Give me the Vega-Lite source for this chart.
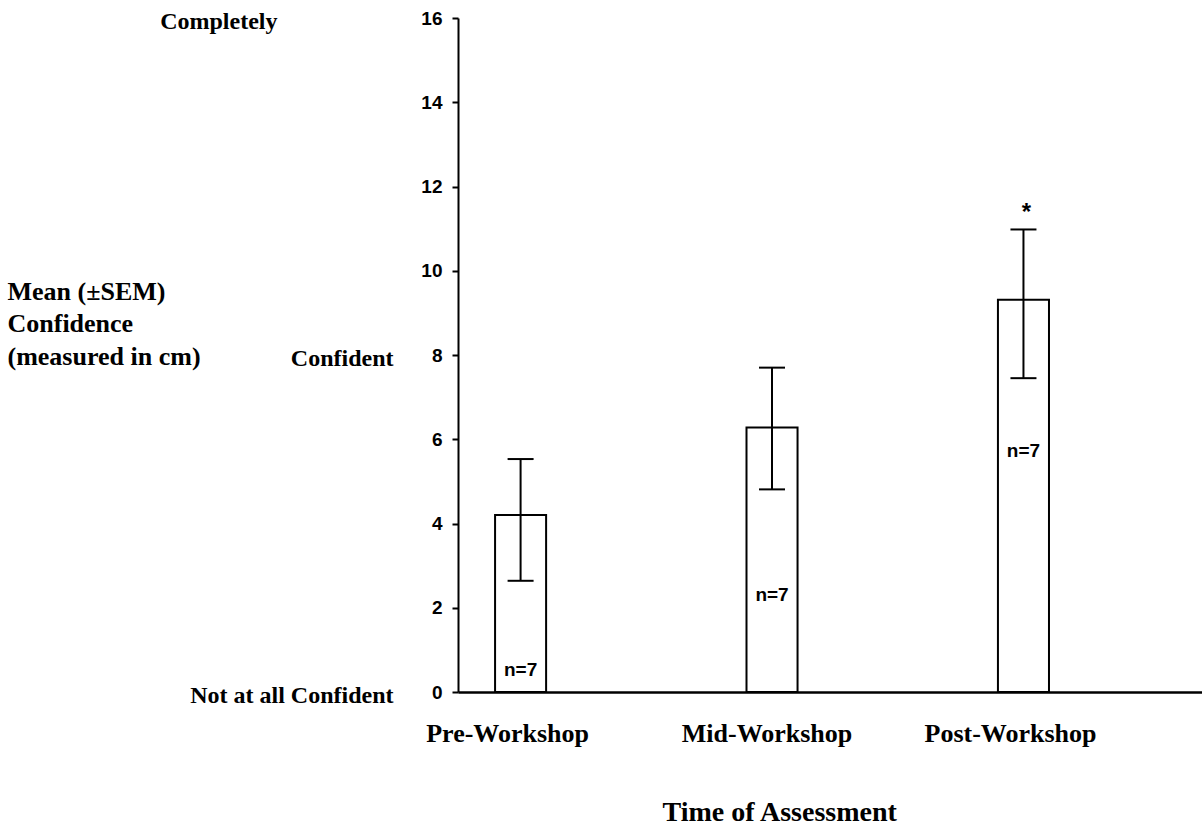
{
  "$schema": "https://vega.github.io/schema/vega-lite/v6.json",
  "width": 744,
  "height": 674,
  "autosize": "none",
  "padding": {"left": 458, "top": 18, "right": 0, "bottom": 134},
  "background": "white",
  "config": {"view": {"stroke": null}, "axis": {"grid": false}},
  "data": {
    "values": [
      {"time": "Pre-Workshop", "mean": 4.2, "lo": 2.64, "hi": 5.53, "n": "n=7", "npos": 0.52, "sig": ""},
      {"time": "Mid-Workshop", "mean": 6.28, "lo": 4.81, "hi": 7.7, "n": "n=7", "npos": 2.3, "sig": ""},
      {"time": "Post-Workshop", "mean": 9.31, "lo": 7.45, "hi": 10.98, "n": "n=7", "npos": 5.72, "sig": "*"}
    ]
  },
  "encoding": {
    "x": {
      "field": "time",
      "type": "nominal",
      "sort": null,
      "scale": {"paddingInner": 0.797, "paddingOuter": 0.378, "align": 0.195},
      "axis": {
        "title": "Time of Assessment",
        "domainColor": "black",
        "domainWidth": 2.5,
        "ticks": false,
        "tickSize": 0,
        "labelFont": "Liberation Serif",
        "labelFontWeight": "bold",
        "labelFontSize": 26,
        "labelColor": "black",
        "labelAngle": 0,
        "labelBaseline": "top",
        "labelPadding": 28,
        "labelOffset": {"condition": {"test": "datum.value == 'Mid-Workshop'", "value": -5}, "value": -13},
        "titleFont": "Liberation Serif",
        "titleFontWeight": "bold",
        "titleFontSize": 28,
        "titleColor": "black",
        "titleX": 204,
        "titleY": 128,
        "titleAlign": "left",
        "titleAnchor": "start",
        "titleBaseline": "alphabetic"
      }
    }
  },
  "layer": [
    {
      "layer": [
        {
          "mark": {"type": "bar", "fill": "white", "stroke": "black", "strokeWidth": 2},
          "encoding": {
            "y": {
              "field": "mean",
              "type": "quantitative",
              "scale": {"domain": [0, 16]},
              "axis": {
                "values": [0, 2, 4, 6, 8, 10, 12, 14, 16],
                "grid": false,
                "domainColor": "black",
                "domainWidth": 2,
                "tickColor": "black",
                "tickWidth": 2,
                "tickSize": 6,
                "labelFont": "Liberation Sans",
                "labelFontWeight": "bold",
                "labelFontSize": 19,
                "labelColor": "black",
                "labelPadding": 10,
                "labelFlush": false,
                "labelOverlap": false,
                "title": ["Mean (±SEM)", "Confidence", "(measured in cm)"],
                "titleFont": "Liberation Serif",
                "titleFontWeight": "bold",
                "titleFontSize": 26,
                "titleColor": "black",
                "titleAngle": 0,
                "titleAlign": "left",
                "titleBaseline": "alphabetic",
                "titleX": -451,
                "titleY": 281,
                "titleLineHeight": 32.5
              }
            }
          }
        },
        {
          "mark": {"type": "rule", "color": "black", "strokeWidth": 2},
          "encoding": {
            "y": {"field": "lo", "type": "quantitative"},
            "y2": {"field": "hi"}
          }
        },
        {
          "mark": {"type": "tick", "orient": "horizontal", "size": 26, "thickness": 2, "color": "black", "opacity": 1},
          "encoding": {"y": {"field": "lo", "type": "quantitative"}}
        },
        {
          "mark": {"type": "tick", "orient": "horizontal", "size": 26, "thickness": 2, "color": "black", "opacity": 1},
          "encoding": {"y": {"field": "hi", "type": "quantitative"}}
        },
        {
          "mark": {"type": "text", "font": "Liberation Sans", "fontWeight": "bold", "fontSize": 19, "color": "black", "baseline": "middle", "align": "center"},
          "encoding": {
            "y": {"field": "npos", "type": "quantitative"},
            "text": {"field": "n"}
          }
        }
      ]
    },
    {
      "mark": {"type": "text", "font": "Liberation Sans", "fontWeight": "bold", "fontSize": 24, "color": "black", "baseline": "alphabetic", "align": "center", "dy": -9, "dx": 3},
      "encoding": {
        "y": {
          "field": "hi",
          "type": "quantitative",
          "scale": {"domain": [0, 16]},
          "axis": {
            "orient": "left",
            "offset": 0,
            "values": [0, 8, 16],
            "labelExpr": "datum.value == 16 ? 'Completely' : (datum.value == 8 ? 'Confident' : 'Not at all Confident')",
            "domain": false,
            "ticks": false,
            "tickSize": 0,
            "grid": false,
            "title": null,
            "labelFont": "Liberation Serif",
            "labelFontWeight": "bold",
            "labelFontSize": 24,
            "labelColor": "black",
            "labelBaseline": "middle",
            "labelAlign": "right",
            "labelFlush": false,
            "labelOverlap": false,
            "labelLimit": 500,
            "labelPadding": {"condition": {"test": "datum.value == 16", "value": 181}, "value": 65},
            "labelOffset": 3
          }
        },
        "text": {"field": "sig"}
      }
    }
  ],
  "resolve": {"scale": {"y": "independent"}, "axis": {"y": "independent"}}
}
